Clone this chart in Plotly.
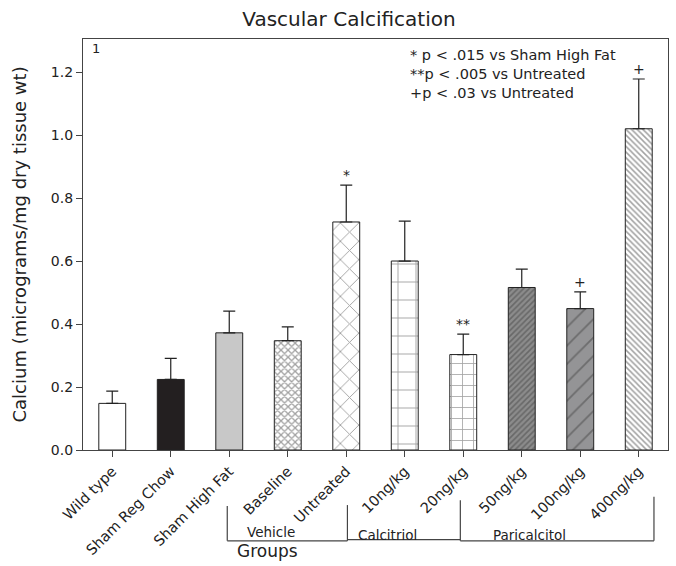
import plotly.graph_objects as go

# ---- data ----
categories = ["Wild type", "Sham Reg Chow", "Sham High Fat", "Baseline", "Untreated",
              "10ng/kg", "20ng/kg", "50ng/kg", "100ng/kg", "400ng/kg"]
values = [0.148, 0.224, 0.372, 0.347, 0.724, 0.600, 0.303, 0.516, 0.449, 1.020]
errors = [0.039, 0.067, 0.069, 0.044, 0.117, 0.127, 0.065, 0.058, 0.053, 0.158]
sig_marks = ["", "", "", "", "*", "", "**", "", "+", "+"]
y_ticks = [0.0, 0.2, 0.4, 0.6, 0.8, 1.0, 1.2]

# ---- styles ----
bar_colors = ["#ffffff", "#231f20", "#c8c8c8", "#ffffff", "#ffffff",
              "#ffffff", "#ffffff", "#8c8c8c", "#949496", "#ffffff"]
pat_shapes = ["", "", "", "x", "x", "+", "+", "/", "/", "\\"]
pat_fg = ["#111111", "#111111", "#111111", "#111111", "#111111",
          "#111111", "#111111", "#2a2a2a", "#1e1e1e", "#111111"]
pat_size = [8, 8, 8, 5, 13, 18, 11, 4, 13, 4]
pat_sol = [0.2, 0.2, 0.2, 0.45, 0.14, 0.1, 0.14, 0.4, 0.14, 0.38]

FONT = "DejaVu Sans, Liberation Sans, Arial, sans-serif"
TXT = "#222222"
x_idx = list(range(len(categories)))

fig = go.Figure()
fig.add_trace(go.Bar(
    x=x_idx, y=values, width=0.46,
    marker=dict(
        color=bar_colors,
        line=dict(color="#222222", width=1),
        pattern=dict(shape=pat_shapes, fgcolor=pat_fg,
                     size=pat_size, solidity=pat_sol, fillmode="overlay"),
    ),
    error_y=dict(type="data", symmetric=False, array=errors,
                 arrayminus=[0] * len(values), color="#222222",
                 thickness=1.2, width=6),
    showlegend=False,
))

annotations = []
# significance marks above error caps
for i, (v, e, m) in enumerate(zip(values, errors, sig_marks)):
    if m:
        annotations.append(dict(x=i, y=v + e, xref="x", yref="y", text=m,
                                showarrow=False, yanchor="bottom", yshift=0,
                                font=dict(family=FONT, size=14, color=TXT)))

annotations += [
    dict(x=0.012, y=0.978, xref="paper", yref="paper", text="1", showarrow=False,
         xanchor="left", yanchor="middle", font=dict(family=FONT, size=13, color=TXT)),
    dict(x=0.556, y=0.985, xref="paper", yref="paper", xanchor="left", yanchor="top",
         align="left", showarrow=False,
         text="* p < .015 vs Sham High Fat<br>**p < .005 vs Untreated<br>+p < .03 vs Untreated",
         font=dict(family=FONT, size=14.5, color=TXT)),
    dict(x=-0.1077, y=0.5, xref="paper", yref="paper", textangle=-90, showarrow=False,
         xanchor="center", yanchor="middle",
         text="Calcium (micrograms/mg dry tissue wt)",
         font=dict(family=FONT, size=18, color=TXT)),
    dict(x=2.65, y=-0.246, xref="x", yref="paper", text="Groups", showarrow=False,
         xanchor="center", yanchor="middle",
         font=dict(family=FONT, size=17, color=TXT)),
    dict(x=2.71, y=-0.200, xref="x", yref="paper", text="Vehicle", showarrow=False,
         xanchor="center", yanchor="middle",
         font=dict(family=FONT, size=13.5, color=TXT)),
    dict(x=4.71, y=-0.207, xref="x", yref="paper", text="Calcitriol", showarrow=False,
         xanchor="center", yanchor="middle",
         font=dict(family=FONT, size=13.5, color=TXT)),
    dict(x=7.13, y=-0.207, xref="x", yref="paper", text="Paricalcitol", showarrow=False,
         xanchor="center", yanchor="middle",
         font=dict(family=FONT, size=13.5, color=TXT)),
]

# group brackets
LC = "#444444"
shapes = []
def seg(x0, y0, x1, y1):
    shapes.append(dict(type="line", xref="x", yref="paper", x0=x0, y0=y0, x1=x1, y1=y1,
                       line=dict(color=LC, width=1.2)))
seg(1.966, -0.136, 1.966, -0.221)
seg(1.966, -0.221, 4.02, -0.221)
seg(4.02, -0.134, 4.02, -0.221)
seg(4.02, -0.218, 5.95, -0.218)
seg(5.95, -0.122, 5.95, -0.221)
seg(5.95, -0.221, 9.26, -0.221)
seg(9.26, -0.114, 9.26, -0.221)

fig.update_layout(
    width=676, height=566,
    margin=dict(l=83, r=8, t=39, b=116),
    paper_bgcolor="white", plot_bgcolor="white",
    font=dict(family=FONT, size=14, color=TXT),
    title=dict(text="Vascular Calcification", x=349 / 676, xref="container",
               xanchor="center", y=1 - 19 / 566, yref="container", yanchor="middle",
               font=dict(family=FONT, size=20, color=TXT)),
    annotations=annotations, shapes=shapes,
    bargap=0.5,
)
fig.update_xaxes(
    range=[-0.5, 9.5], tickmode="array", tickvals=x_idx, ticktext=categories,
    tickangle=-45, ticks="outside", ticklen=6, tickcolor=LC,
    showline=True, linecolor=LC, linewidth=1.2, mirror=True,
    showgrid=False, zeroline=False, tickfont=dict(family=FONT, size=14.5, color=TXT),
)
fig.update_yaxes(
    range=[0, 1.305], tickmode="array", tickvals=y_ticks,
    ticktext=[f"{t:.1f}" for t in y_ticks],
    ticks="outside", ticklen=6, tickcolor=LC,
    showline=True, linecolor=LC, linewidth=1.2, mirror=True,
    showgrid=False, zeroline=False, tickfont=dict(family=FONT, size=14, color=TXT),
)

fig.write_html("out.html")
